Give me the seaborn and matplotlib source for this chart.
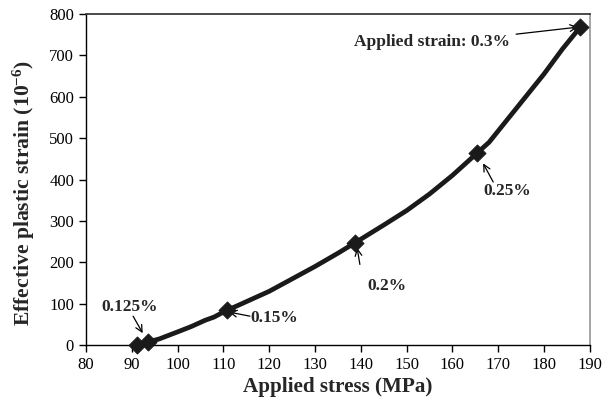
import matplotlib
matplotlib.use("Agg")
import matplotlib.pyplot as plt
import seaborn as sns
import pandas as pd

# curve data (applied stress MPa, effective plastic strain 1e-6)
stress = [91.1, 93.6, 96, 100, 103, 106, 108, 110.7, 113, 116, 120, 125, 130, 135,
          138.7, 145, 150, 155, 160, 165.4, 168, 172, 176, 180, 184, 187.9]
strain = [0, 8, 15, 32, 45, 60, 68, 84, 95, 110, 130, 160, 190, 222,
          247, 290, 325, 365, 410, 464, 490, 545, 600, 655, 715, 768]
# marked points
mark_stress = [91.1, 93.6, 110.7, 138.7, 165.4, 187.9]
mark_strain = [0, 8, 84, 247, 464, 768]
labels = ["0.125%", "0.15%", "0.2%", "0.25%", "Applied strain: 0.3%"]

sns.set_theme(style="white")
plt.rcParams['font.family'] = ['Liberation Serif', 'DejaVu Serif']
plt.rcParams['mathtext.fontset'] = 'custom'
plt.rcParams['mathtext.rm'] = 'Liberation Serif:bold'
plt.rcParams['mathtext.bf'] = 'Liberation Serif:bold'
plt.rcParams['mathtext.default'] = 'bf'

fig = plt.figure(figsize=(6.05, 4.08), dpi=100)
ax = fig.add_axes([0.142, 0.154, 0.833, 0.812])

df = pd.DataFrame({"x": stress, "y": strain})
dm = pd.DataFrame({"x": mark_stress, "y": mark_strain})
sns.lineplot(data=df, x="x", y="y", ax=ax, color="#1a1a1a", linewidth=3.4, sort=False)
sns.scatterplot(data=dm, x="x", y="y", ax=ax, color="#1a1a1a", marker="D", s=75,
                edgecolor="#1a1a1a", zorder=5, clip_on=False)

ax.set_xlim(80, 190)
ax.set_ylim(0, 800)
ax.set_xticks(range(80, 191, 10))
ax.set_yticks(range(0, 801, 100))
ax.tick_params(axis="both", labelsize=12, direction="out", length=5, width=1,
               bottom=True, left=True, colors="black")
for s in ["left", "bottom"]:
    ax.spines[s].set_color("black")
    ax.spines[s].set_linewidth(1)
ax.spines["top"].set_color("#333333")
ax.spines["right"].set_color("#999999")
ax.set_xlabel("Applied stress (MPa)", fontsize=15.2, fontweight="bold", labelpad=3)
ax.set_ylabel("Effective plastic strain (10$^{-6}$)", fontsize=15.6, fontweight="bold")
ax.yaxis.set_label_coords(-0.098, 0.46)

ap = dict(arrowstyle="->", color="black", lw=0.9, shrinkA=0, shrinkB=0)
ann = [
    ("0.125%", (89.6, 92), (90.3, 70), (92.4, 29), "center"),
    ("0.15%", (116.0, 65), (115.8, 70), (111.2, 80), "left"),
    ("0.2%", (145.7, 143), (139.8, 195), (139.2, 235), "center"),
    ("0.25%", (171.9, 372), (168.9, 394), (166.7, 439), "center"),
    ("Applied strain: 0.3%", (155.5, 732), (173.9, 751), (187.4, 768), "center"),
]
for txt, tpos, tail, head, ha in ann:
    ax.text(tpos[0], tpos[1], txt, fontsize=12.5, fontweight="bold", ha=ha, va="center")
    ax.annotate("", xy=head, xytext=tail, arrowprops=ap)

fig.savefig("out.png", dpi=100)
